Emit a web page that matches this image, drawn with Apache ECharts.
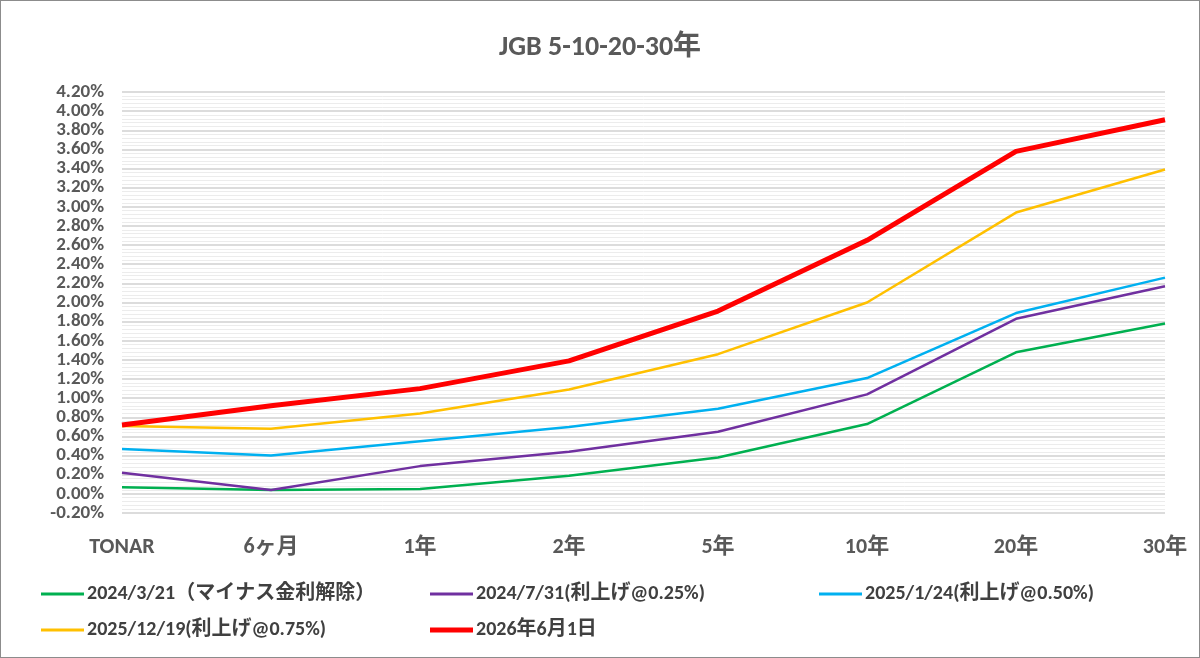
<!DOCTYPE html>
<html>
<head>
<meta charset="utf-8">
<script src="https://cdn.jsdelivr.net/npm/echarts@6/dist/echarts.min.js"></script>
<style>
  html, body { margin: 0; padding: 0; background: #fff; }
  #chart { width: 1198px; height: 656px; border: 1px solid #8c8c8c; }
</style>
</head>
<body>
<div id="chart"></div>
<script>
var categories = ['TONAR', '6ヶ月', '1年', '2年', '5年', '10年', '20年', '30年'];
var seriesNames = ['2024/3/21（マイナス金利解除）', '2024/7/31(利上げ@0.25%)', '2025/1/24(利上げ@0.50%)', '2025/12/19(利上げ@0.75%)', '2026年6月1日'];
var green = [0.07, 0.04, 0.05, 0.19, 0.38, 0.73, 1.48, 1.78];
var purple = [0.22, 0.04, 0.29, 0.44, 0.65, 1.04, 1.83, 2.17];
var cyan = [0.47, 0.40, 0.55, 0.70, 0.89, 1.21, 1.89, 2.26];
var yellow = [0.71, 0.68, 0.84, 1.09, 1.46, 2.00, 2.94, 3.39];
var red = [0.72, 0.92, 1.10, 1.39, 1.91, 2.65, 3.58, 3.91];

var FONT = 'Carlito, "Open Sans", "Noto Sans CJK JP", sans-serif';
var colors = ['#00B050', '#7030A0', '#00B0F0', '#FFC000', '#FF0000'];
var values = [green, purple, cyan, yellow, red];
var widths = [2.5, 2.5, 2.5, 2.5, 5];
var legendPos = [[40, 583], [429, 583], [818, 583], [40, 619], [429, 619]];

var chart = echarts.init(document.getElementById('chart'));

var series = [];
var legends = [];
for (var i = 0; i < seriesNames.length; i++) {
    series.push({
        name: seriesNames[i],
        type: 'line',
        data: values[i],
        symbol: 'none',
        color: colors[i],
        lineStyle: { width: widths[i], color: colors[i] },
        z: 2 + i
    });
    legends.push({
        data: [seriesNames[i]],
        left: legendPos[i][0],
        top: legendPos[i][1],
        padding: 0,
        itemWidth: 43,
        itemHeight: 22,
        itemGap: 2,
        icon: i === 4 ? 'path://M0,9 L43,9 L43,14 L0,14 Z' : 'path://M0,10 L43,10 L43,13 L0,13 Z',
        textStyle: { fontFamily: FONT, fontSize: 20, fontWeight: 'bold', color: '#404040', padding: [0, 0, 0, -2] }
    });
}

var option = {
    backgroundColor: '#fff',
    title: {
        text: 'JGB 5-10-20-30年',
        left: 'center',
        top: 28,
        textStyle: { fontFamily: FONT, fontSize: 28, fontWeight: 'bold', color: '#595959' }
    },
    legend: legends,
    grid: { left: 121, right: 34, top: 91, bottom: 144 },
    xAxis: {
        type: 'category',
        data: categories,
        boundaryGap: false,
        axisLine: { show: false },
        axisTick: { show: false },
        axisLabel: {
            margin: 23,
            interval: 0,
            fontFamily: FONT,
            fontSize: 22,
            fontWeight: 'bold',
            color: '#595959'
        }
    },
    yAxis: {
        type: 'value',
        min: -0.2,
        max: 4.2,
        interval: 0.2,
        axisLine: { show: false },
        axisTick: { show: false },
        axisLabel: {
            fontFamily: FONT,
            fontSize: 19,
            lineHeight: 14,
            fontWeight: 'bold',
            color: '#595959',
            margin: 18,
            formatter: function (v) { return v.toFixed(2) + '%'; }
        },
        splitLine: { show: true, lineStyle: { color: '#d0d0d0', width: 1.5 } },
        minorTick: { show: false, splitNumber: 5 },
        minorSplitLine: { show: true, lineStyle: { color: '#ececec', width: 1 } }
    },
    series: series
};
chart.setOption(option);
</script>
</body>
</html>
